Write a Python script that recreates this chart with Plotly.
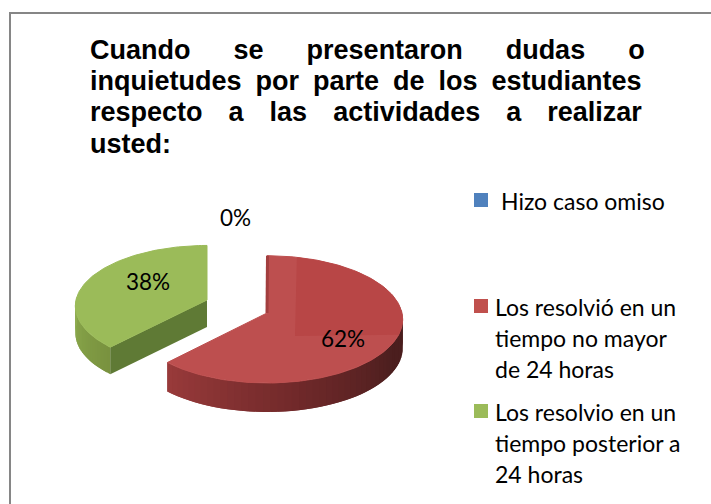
import numpy as np
import plotly.graph_objects as go

W, H = 711, 504
categories = ["Hizo caso omiso", "Los resolvió en un<br>tiempo no mayor<br>de 24 horas",
              "Los resolvio en un<br>tiempo posterior a<br>24 horas"]
values = [0, 62, 38]
legend_colors = ["#4F81BD", "#C0504D", "#9BBB59"]

title_lines = [
    ["Cuando", "se", "presentaron", "dudas", "o"],
    ["inquietudes", "por", "parte", "de", "los", "estudiantes"],
    ["respecto", "a", "las", "actividades", "a", "realizar"],
    ["usted:"],
]
title_gap_px = [43, 14, 26, 0]

total = sum(values)
fractions = [v / total for v in values]
PERSP = 0.10


def rim(cx, cy, a, b, t):
    s = 1 / (1 + PERSP * np.cos(t))
    return cx + a * np.sin(t) * s, cy - b * np.cos(t) * s


def hex2rgb(h):
    return np.array([int(h[i:i + 2], 16) for i in (1, 3, 5)], dtype=float)


def ramp(stops, u):
    xs = [p for p, _ in stops]
    c = [np.interp(u, xs, [hex2rgb(col)[i] for _, col in stops]) for i in range(3)]
    return "rgb(%d,%d,%d)" % tuple(c)


fig = go.Figure()


def poly(x, y, color, name="", line=0):
    fig.add_trace(go.Scatter(
        x=list(x), y=list(y), mode="lines", fill="toself", fillcolor=color,
        line=dict(color=color, width=line), hoverinfo="skip", showlegend=False, name=name))


def side(cx, cy, a, b, depth, t0, t1, stops, n=50):
    ts = np.linspace(t0, t1, n + 1)
    for i in range(n):
        # each strip runs on under its neighbour so that no seam shows
        tt = np.linspace(ts[i], ts[min(i + 2, n)], 5)
        x, y = rim(cx, cy, a, b, tt)
        col = ramp(stops, (i + .5) / n)
        poly(np.r_[x, x[::-1]], np.r_[y, (y + depth)[::-1]], col)


red_end = 2 * np.pi * (fractions[0] + fractions[1])
red_start = 2 * np.pi * fractions[0]
green_end = 2 * np.pi

# red slice
RC = (267, 313, 135, 63, 29)
side(*RC, np.pi / 2 - 0.1, red_end, [(0, "#4A1E1E"), (0.25, "#4C1F1F"), (0.6, "#70292A"), (1, "#9A3B3B")])
t = np.linspace(red_start, red_end, 160)
x, y = rim(*RC[:4], t)
poly(np.r_[RC[0], x, RC[0]], np.r_[RC[1], y, RC[1]], "#BD4F4F", "red top", 1)
# darker quadrant seen on the original top face
keep = (x >= 295) & (y <= 336)
poly(np.r_[295, x[keep], 295], np.r_[336, y[keep], 336], "#B84646", "red band")
fig.add_trace(go.Scatter(x=[x[0] + .5, RC[0]], y=[y[0], RC[1]], mode="lines",
                         line=dict(color="#A23E3E", width=3), hoverinfo="skip", showlegend=False))

# green slice
GC = (207, 300, 131, 60, 27)
side(*GC, red_end, 3 * np.pi / 2 + 0.05, [(0, "#79923F"), (1, "#8FAE50")], n=24)
xa, ya = rim(*GC[:4], red_end)
poly([xa, GC[0], GC[0], xa], [ya, GC[1], GC[1] + GC[4], ya + GC[4]], "#5F7A35", "green wall")
t = np.linspace(red_end, green_end, 100)
x, y = rim(*GC[:4], t)
poly(np.r_[GC[0], x, GC[0]], np.r_[GC[1], y, GC[1]], "#9BBB59", "green top", 1)

# legend swatches
legend_y = [200, 306, 411]
fig.add_trace(go.Scatter(x=[481] * 3, y=legend_y, mode="markers",
                         marker=dict(symbol="square", size=14, color=legend_colors),
                         hoverinfo="skip", showlegend=False))

anns = []
LABEL = dict(family="Lato, Carlito, sans-serif", color="#000000")
for txt, (px, py) in zip([f"{round(f * 100)}%" for f in fractions], [(235, 217), (343, 338), (148, 281)]):
    anns.append(dict(x=px, y=py, text=txt, showarrow=False, font=dict(size=22.5, **LABEL),
                     xanchor="center", yanchor="middle"))
for i, (txt, py) in enumerate(zip(categories, [200, 306, 411])):
    body = "<br>".join(f'<span style="font-size:23px">{s}</span>' for s in txt.split("<br>"))
    anns.append(dict(x=499 if i == 0 else 493, y=py - 15.5, text=body, showarrow=False, align="left",
                     font=dict(size=24, **LABEL), xanchor="left", yanchor="top"))

nb = "\u00a0"
SPACE_EM = 0.278
TITLE_SIZE = 27


def title_line(words, gap):
    parts = []
    for j, w in enumerate(words):
        parts.append(f'<span style="font-size:{TITLE_SIZE}px">{w}</span>')
        if j < len(words) - 1:
            n = max(1, round(gap / (SPACE_EM * TITLE_SIZE)))
            fs = gap / n / SPACE_EM
            parts.append(f'<span style="font-size:{fs:.1f}px">{nb * n}</span>')
    return "".join(parts)


title = "<br>".join(title_line(l, g) for l, g in zip(title_lines, title_gap_px))
fig.update_layout(
    width=W, height=H, margin=dict(l=0, r=0, t=0, b=0),
    paper_bgcolor="#FFFFFF", plot_bgcolor="#FFFFFF", showlegend=False,
    title=dict(text=title, x=90 / W, xanchor="left", xref="paper", y=1 - 59 / H, yanchor="top",
               font=dict(family="Liberation Sans, Arial, sans-serif", size=24, color="#000000", weight="bold")),
    xaxis=dict(range=[0, W], visible=False, fixedrange=True),
    yaxis=dict(range=[H, 0], visible=False, fixedrange=True),
    annotations=anns,
    shapes=[dict(type="rect", xref="paper", yref="paper", x0=10 / W, x1=1.2, y0=-0.2, y1=1 - 13 / H,
                 line=dict(color="#868686", width=2), layer="below")],
)
fig.write_html("out.html", config=dict(displayModeBar=False),
               post_script="document.body.style.margin='0';document.body.style.overflow='hidden';")
